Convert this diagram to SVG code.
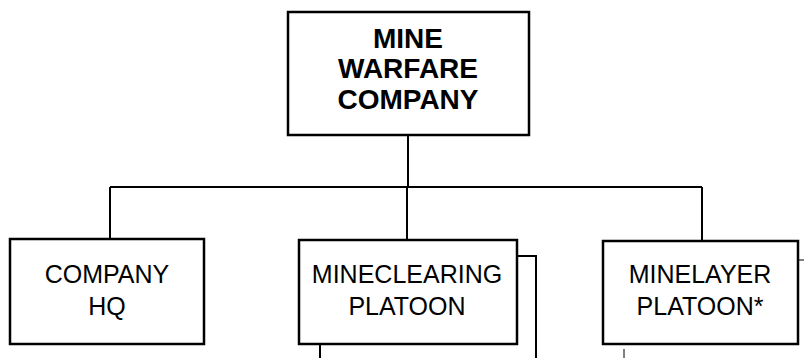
<svg xmlns="http://www.w3.org/2000/svg" width="804" height="358" viewBox="0 0 804 358">
<style>
.box{fill:#fff;stroke:#000;stroke-width:2.5}
.ln{fill:none;stroke:#000;stroke-width:2}
.thin{fill:none;stroke:#000;stroke-width:1}
.t{font-family:"Liberation Sans",Arial,sans-serif;font-size:25px;text-anchor:middle;fill:#000}
.b{font-weight:bold;font-size:28px}
</style>
<rect width="804" height="358" fill="#fff"/>
<g id="connectors">
<path class="ln" d="M408,135 V187"/>
<path class="ln" d="M110,187 H702"/>
<path class="ln" d="M110,187 V239"/>
<path class="ln" d="M407,187 V240"/>
<path class="ln" d="M702,187 V241"/>
<path class="ln" d="M517,256 H536 V358"/>
<path class="ln" d="M320,344 V358"/>
<path class="thin" d="M798,260 H804"/>
<path class="thin" d="M624,349 V358"/>
</g>
<g id="mine-warfare-company">
<rect class="box" x="288" y="12" width="241" height="123"/>
<text class="t b" x="408" y="48">MINE</text>
<text class="t b" x="408" y="78">WARFARE</text>
<text class="t b" x="408" y="109">COMPANY</text>
</g>
<g id="company-hq">
<rect class="box" x="10" y="239" width="194" height="105"/>
<text class="t" x="107" y="283">COMPANY</text>
<text class="t" x="107" y="315">HQ</text>
</g>
<g id="mineclearing-platoon">
<rect class="box" x="299" y="240" width="218" height="104"/>
<text class="t" x="407" y="283">MINECLEARING</text>
<text class="t" x="407" y="315">PLATOON</text>
</g>
<g id="minelayer-platoon">
<rect class="box" x="603" y="241" width="195" height="103"/>
<text class="t" x="700" y="283">MINELAYER</text>
<text class="t" x="700" y="315">PLATOON*</text>
</g>
</svg>
